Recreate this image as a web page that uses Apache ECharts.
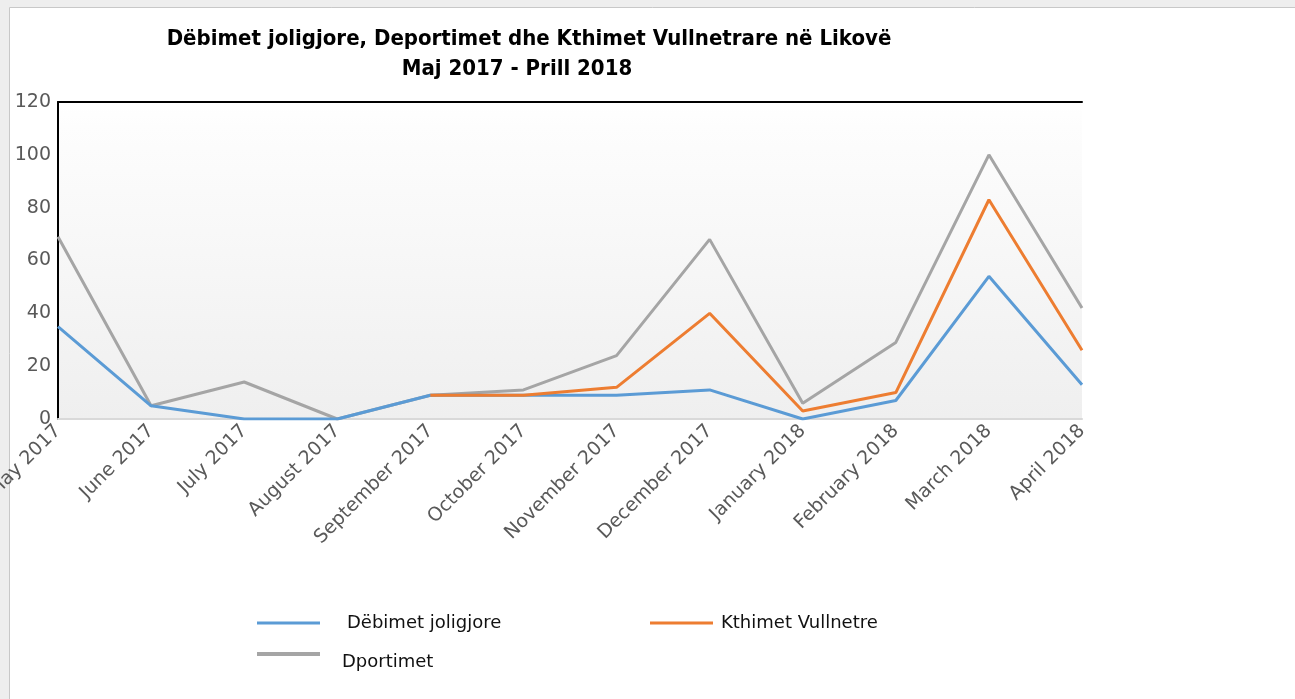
<!DOCTYPE html>
<html>
<head>
<meta charset="utf-8">
<script src="https://cdn.jsdelivr.net/npm/echarts@6/dist/echarts.min.js"></script>
<style>
html,body{margin:0;padding:0;background:#eeeeee;}
#c{width:1295px;height:699px;}
</style>
</head>
<body>
<div id="c"></div>
<script>
const titleText = 'Dëbimet joligjore, Deportimet dhe Kthimet Vullnetrare në Likovë';
const subtitleText = 'Maj 2017 - Prill 2018';
const categories = ['May 2017','June 2017','July 2017','August 2017','September 2017','October 2017','November 2017','December 2017','January 2018','February 2018','March 2018','April 2018'];
const seriesNames = ['Dëbimet joligjore','Kthimet Vullnetre','Dportimet'];
const debimet = [35, 5, 0, 0, 9, 9, 9, 11, 0, 7, 54, 13];
const kthimet = [null, null, null, null, 9, 9, 12, 40, 3, 10, 83, 26];
const dportimet = [69, 5, 14, 0, 9, 11, 24, 68, 6, 29, 100, 42];
const yMin = 0, yMax = 120, yInterval = 20;

const chart = echarts.init(document.getElementById('c'), null, {renderer:'canvas'});
const colors = ['#5b9bd5','#ed7d31','#a5a5a5'];
function legendItem(name, left, top, padLeft, padTop, iconH){
  return {
    data:[name], left:left, top:top, padding:0, orient:'horizontal', icon:'rect',
    itemWidth:63, itemHeight:iconH, itemGap:0,
    formatter:'{t|{name}}',
    textStyle:{fontFamily:'DejaVu Sans', fontSize:18, color:'#111',
      rich:{t:{fontFamily:'DejaVu Sans', fontSize:18, color:'#111', padding:[padTop,0,0,padLeft]}}}
  };
}
chart.setOption({
  backgroundColor:'transparent',
  color: colors,
  graphic:[{
    type:'rect', shape:{x:9.5,y:7.5,width:1300,height:700},
    style:{fill:'#ffffff', stroke:'#c8c8c8', lineWidth:1}, z:-10, silent:true
  }],
  title:[{
    text: titleText, left:524, textAlign:'center', top:23,
    textStyle:{fontFamily:'DejaVu Sans Condensed', fontWeight:'bold', fontSize:22, color:'#000'}
  },{
    text: subtitleText, left:512, textAlign:'center', top:53,
    textStyle:{fontFamily:'DejaVu Sans Condensed', fontWeight:'bold', fontSize:22, color:'#000'}
  }],
  legend:[
    legendItem(seriesNames[0], 257, 614, 22, 0, 3),
    legendItem(seriesNames[1], 650, 614, 3, 0, 3),
    legendItem(seriesNames[2], 257, 652, 17, 16, 4)
  ],
  grid:{
    left:58, right:213, top:102, bottom:280, show:true, borderWidth:0,
    outerBoundsMode:'none', containLabel:false,
    backgroundColor:{type:'linear', x:0, y:0, x2:0, y2:1,
      colorStops:[{offset:0,color:'#ffffff'},{offset:0.08,color:'#fdfdfd'},{offset:1,color:'#efefef'}]}
  },
  xAxis:[{
    type:'category', data:categories, boundaryGap:false, position:'bottom',
    axisLine:{lineStyle:{color:'#d9d9d9', width:2}},
    axisTick:{show:false},
    axisLabel:{rotate:45, interval:0, margin:9, color:'#595959', fontFamily:'DejaVu Sans', fontSize:19},
    splitLine:{show:false}
  },{
    type:'category', data:categories, boundaryGap:false, position:'top',
    axisLine:{lineStyle:{color:'#000', width:2}},
    axisTick:{show:false}, axisLabel:{show:false}, splitLine:{show:false}
  }],
  yAxis:{
    type:'value', min:yMin, max:yMax, interval:yInterval,
    axisLine:{show:true, lineStyle:{color:'#000', width:2}},
    axisTick:{show:false},
    axisLabel:{color:'#595959', fontFamily:'DejaVu Sans', fontSize:19, margin:7},
    splitLine:{show:false}
  },
  series:[
    {name:seriesNames[0], type:'line', data:debimet, symbol:'none', lineStyle:{width:3, color:colors[0]}, z:3},
    {name:seriesNames[1], type:'line', data:kthimet, symbol:'none', lineStyle:{width:3, color:colors[1]}, z:4},
    {name:seriesNames[2], type:'line', data:dportimet, symbol:'none', lineStyle:{width:3, color:colors[2]}, z:2}
  ]
});
</script>
</body>
</html>
